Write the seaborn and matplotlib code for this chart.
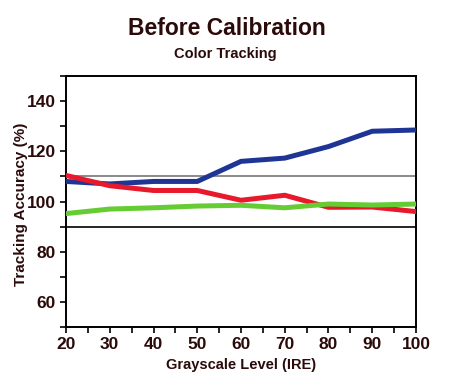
import pandas as pd
import seaborn as sns
import matplotlib.pyplot as plt
from matplotlib.ticker import MultipleLocator

ire = [20, 30, 40, 50, 60, 70, 80, 90, 100]
blue = [108, 107, 108, 108, 116, 117.3, 121.9, 128, 128.5]
red = [110.4, 106.3, 104.4, 104.4, 100.5, 102.5, 97.7, 97.8, 96]
green = [95.2, 97, 97.5, 98.2, 98.5, 97.5, 99, 98.6, 99]

df = pd.DataFrame({
    "IRE": ire * 3,
    "Accuracy": blue + red + green,
    "Channel": ["Blue"] * 9 + ["Red"] * 9 + ["Green"] * 9,
})

sns.set_style("ticks")
plt.rcParams["font.family"] = ["Liberation Sans", "DejaVu Sans"]
txt = "#2b0a0a"

fig = plt.figure(figsize=(4.5, 3.84), dpi=100)
ax = fig.add_axes([0.1467, 0.1484, 0.7777, 0.6536])

ax.axhline(110, color="#777777", lw=1.2, zorder=1)
ax.axhline(90, color="black", lw=1.2, zorder=1)

sns.lineplot(data=df, x="IRE", y="Accuracy", hue="Channel",
             palette={"Blue": "#1f3596", "Red": "#e8192c", "Green": "#66cc33"},
             lw=3.6, legend=False, ax=ax, zorder=3)

ax.set_xlim(20, 100)
ax.set_ylim(50, 150)
ax.set_xticks(range(20, 101, 10))
ax.set_yticks([60, 80, 100, 120, 140])
ax.xaxis.set_minor_locator(MultipleLocator(5))
ax.yaxis.set_minor_locator(MultipleLocator(10))
ax.tick_params(which="both", direction="out", length=4, width=1.2, color="black")
for s in ax.spines.values():
    s.set_linewidth(1.4)
    s.set_color("black")

for lab in ax.get_xticklabels() + ax.get_yticklabels():
    lab.set_fontweight("bold")
    lab.set_fontsize(12.5)
    lab.set_color(txt)

ax.set_xlabel("Grayscale Level (IRE)", fontsize=10.5, fontweight="bold", color=txt, labelpad=4)
ax.set_ylabel("Tracking Accuracy (%)", fontsize=11, fontweight="bold", color=txt)
ax.yaxis.set_label_coords(-0.11, 0.49)

fig.text(0.505, 0.927, "Before Calibration", ha="center", va="center",
         fontsize=16.5, fontweight="bold", color=txt)
fig.text(0.5, 0.86, "Color Tracking", ha="center", va="center",
         fontsize=10.5, fontweight="bold", color=txt)

fig.savefig("out.png", dpi=100)
